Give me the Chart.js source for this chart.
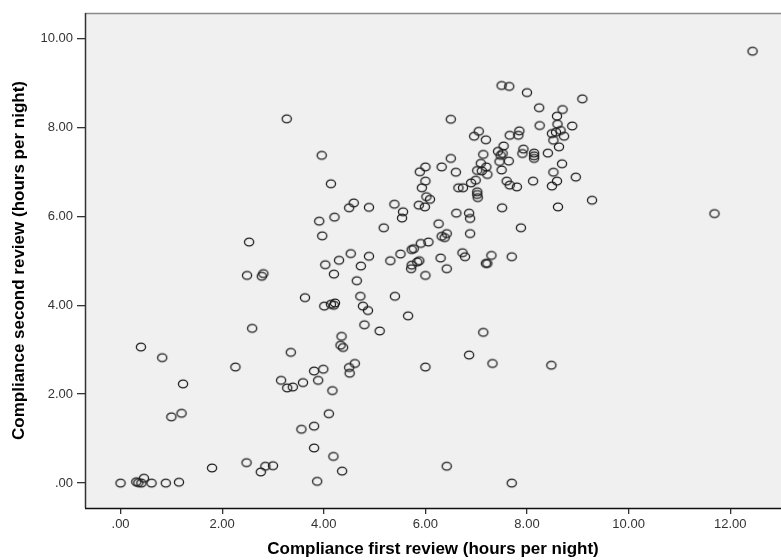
<!DOCTYPE html>
<html>
<head>
<meta charset="utf-8">
<script src="https://cdn.jsdelivr.net/npm/chart.js@4/dist/chart.umd.min.js"></script>
<style>
  html, body { margin: 0; padding: 0; background: #ffffff; overflow: hidden; }
  #wrap { width: 781px; height: 560px; position: relative; }
</style>
</head>
<body>
<div id="wrap"><canvas id="c" width="781" height="560"></canvas></div>
<script>
// ---- Data ----
const firstReview = [
  0.00, 0.31, 0.35, 0.46, 0.41, 0.61, 0.89, 1.15, 1.80, 0.40,
  0.82, 1.23, 1.00, 1.20, 2.26, 2.59, 2.48, 2.76, 2.85, 3.00,
  2.53, 2.49, 2.81, 2.78, 3.27, 3.96, 4.14, 4.59, 4.50, 4.89,
  5.39, 3.91, 4.21, 3.97, 5.18, 4.53, 4.30, 4.03, 4.89, 4.73,
  5.31, 4.20, 4.65, 3.63, 4.01, 4.14, 4.20, 4.22, 4.72, 4.77,
  4.87, 4.80, 5.10, 4.35, 4.33, 4.38, 3.35, 4.61, 4.50, 4.51,
  3.99, 3.81, 3.16, 3.28, 3.39, 3.89, 3.59, 4.17, 4.10, 3.56,
  3.81, 3.81, 4.19, 4.36, 3.87, 5.40, 5.66, 7.14, 6.86, 7.32,
  8.48, 6.00, 6.42, 7.70, 12.44, 7.50, 7.65, 8.00, 9.09, 8.24,
  8.70, 8.59, 6.50, 8.25, 8.60, 8.89, 7.05, 6.96, 7.19, 7.85,
  7.83, 7.66, 8.49, 8.57, 8.66, 8.73, 8.52, 8.63, 7.54, 7.43,
  7.52, 7.48, 7.64, 7.46, 7.93, 7.91, 8.14, 8.14, 8.14, 8.41,
  6.50, 6.00, 5.89, 6.32, 6.60, 7.09, 7.14, 7.20, 7.02, 7.11,
  7.22, 7.50, 8.69, 8.52, 8.59, 8.49, 8.96, 7.60, 7.66, 7.80,
  8.12, 6.00, 5.93, 6.02, 6.09, 5.99, 5.87, 5.56, 5.54, 6.65,
  6.74, 6.90, 6.99, 7.02, 7.02, 7.03, 8.61, 9.28, 11.69, 7.51,
  6.61, 6.86, 6.88, 6.26, 6.32, 6.38, 6.42, 6.88, 7.88, 6.06,
  5.91, 5.77, 5.73, 5.51, 5.88, 5.84, 5.73, 5.72, 6.00, 6.30,
  6.42, 6.73, 6.78, 7.30, 7.22, 7.19, 7.70
];
const secondReview = [
  0.00, 0.03, 0.01, 0.11, 0.00, 0.00, 0.00, 0.02, 0.34, 3.06,
  2.82, 2.23, 1.49, 1.57, 2.61, 3.48, 0.46, 0.25, 0.38, 0.39,
  5.42, 4.67, 4.71, 4.65, 8.19, 7.37, 6.73, 6.30, 6.19, 6.20,
  6.27, 5.89, 5.98, 5.56, 5.74, 5.16, 5.01, 4.91, 5.10, 4.88,
  5.00, 4.70, 4.55, 4.17, 3.98, 4.02, 4.00, 4.05, 4.20, 3.98,
  3.88, 3.56, 3.42, 3.30, 3.10, 3.05, 2.94, 2.69, 2.60, 2.47,
  2.56, 2.52, 2.31, 2.14, 2.16, 2.31, 2.26, 2.08, 1.56, 1.21,
  1.28, 0.79, 0.60, 0.27, 0.04, 4.20, 3.76, 3.39, 2.88, 2.69,
  2.65, 2.61, 0.38, 0.00, 9.71, 8.94, 8.92, 8.78, 8.64, 8.44,
  8.40, 8.25, 8.18, 8.04, 8.07, 8.03, 7.91, 7.80, 7.72, 7.92,
  7.82, 7.82, 7.86, 7.89, 7.93, 7.80, 7.71, 7.56, 7.58, 7.46,
  7.41, 7.37, 7.24, 7.23, 7.51, 7.41, 7.42, 7.36, 7.30, 7.42,
  7.30, 7.11, 7.00, 7.11, 6.99, 7.19, 7.39, 7.11, 7.03, 7.02,
  6.94, 7.04, 7.18, 6.99, 6.79, 6.68, 6.88, 6.79, 6.70, 6.66,
  6.79, 6.79, 6.64, 6.44, 6.38, 6.21, 6.25, 6.10, 5.96, 6.64,
  6.64, 6.75, 6.81, 6.55, 6.49, 6.42, 6.21, 6.36, 6.06, 6.19,
  6.07, 6.07, 5.95, 5.83, 5.55, 5.52, 5.61, 5.61, 5.74, 5.42,
  5.39, 5.27, 5.25, 5.15, 5.00, 4.97, 4.90, 4.82, 4.67, 5.06,
  4.82, 5.18, 5.09, 5.12, 4.94, 4.94, 5.09
];
const xTickValues = [0, 2, 4, 6, 8, 10, 12];
const xTickLabels = ['.00', '2.00', '4.00', '6.00', '8.00', '10.00', '12.00'];
const yTickValues = [0, 2, 4, 6, 8, 10];
const yTickLabels = ['.00', '2.00', '4.00', '6.00', '8.00', '10.00'];
const xTitle = 'Compliance first review (hours per night)';
const yTitle = 'Compliance second review (hours per night)';

// ---- Build points ----
const points = firstReview.map((x, i) => ({ x: x, y: secondReview[i] }));

// Elliptical open marker
function makeMarker() {
  const cv = document.createElement('canvas');
  cv.width = 14; cv.height = 12;
  const g = cv.getContext('2d');
  g.strokeStyle = '#1e1e1e';
  g.lineWidth = 1.3;
  g.beginPath();
  g.ellipse(7, 6, 4.6, 3.8, 0, 0, Math.PI * 2);
  g.stroke();
  return cv;
}
const marker = makeMarker();

const plotBg = {
  id: 'plotBg',
  beforeDatasetsDraw(chart) {
    const { ctx, chartArea: a } = chart;
    ctx.save();
    ctx.fillStyle = '#f0f0f0';
    ctx.fillRect(a.left, a.top, a.right - a.left, a.bottom - a.top);
    ctx.restore();
  },
  afterDraw(chart) {
    const { ctx, chartArea: a } = chart;
    ctx.save();
    ctx.lineWidth = 1.5;
    ctx.strokeStyle = '#8a8a8a';
    ctx.beginPath();
    ctx.moveTo(a.left, a.top + 0.5);
    ctx.lineTo(a.right, a.top + 0.5);
    ctx.stroke();
    ctx.strokeStyle = '#333333';
    ctx.beginPath();
    ctx.moveTo(a.left + 0.5, a.top);
    ctx.lineTo(a.left + 0.5, a.bottom);
    ctx.stroke();
    ctx.strokeStyle = '#111111';
    ctx.beginPath();
    ctx.moveTo(a.left, a.bottom + 0.5);
    ctx.lineTo(a.right, a.bottom + 0.5);
    ctx.stroke();
    ctx.restore();
  }
};

const tickFont = { family: 'Liberation Sans, Arial, sans-serif', size: 13 };
const titleFont = { family: 'Liberation Sans, Arial, sans-serif', size: 17, weight: 'bold' };

new Chart(document.getElementById('c'), {
  type: 'scatter',
  data: {
    datasets: [{
      data: points,
      pointStyle: marker,
      pointRadius: 5,
      pointHoverRadius: 5,
      clip: false
    }]
  },
  options: {
    responsive: false,
    animation: false,
    events: [],
    layout: { autoPadding: false, padding: { top: 13, right: 0, left: 0, bottom: 0 } },
    plugins: { legend: { display: false }, tooltip: { enabled: false } },
    scales: {
      x: {
        type: 'linear',
        min: -0.70,
        max: 13.0,
        afterBuildTicks(scale) { scale.ticks = xTickValues.map(v => ({ value: v })); },
        afterFit(scale) { scale.height = 52; scale.paddingLeft = 0; scale.paddingRight = 0; },
        ticks: {
          autoSkip: false,
          maxRotation: 0,
          padding: 3,
          color: '#333333',
          font: tickFont,
          callback: (v) => xTickLabels[xTickValues.indexOf(v)]
        },
        grid: { display: true, drawOnChartArea: false, drawTicks: true, tickLength: 6, color: '#333333', lineWidth: 1.3 },
        border: { display: false },
        title: { display: true, text: xTitle, color: '#000000', font: titleFont, padding: { top: 0, bottom: 0 } }
      },
      y: {
        type: 'linear',
        min: -0.56,
        max: 10.57,
        afterBuildTicks(scale) { scale.ticks = yTickValues.map(v => ({ value: v })); },
        afterFit(scale) { scale.width = 85; scale.paddingTop = 0; scale.paddingBottom = 0; },
        ticks: {
          autoSkip: false,
          padding: 4,
          color: '#333333',
          font: tickFont,
          callback: (v) => yTickLabels[yTickValues.indexOf(v)]
        },
        grid: { display: true, drawOnChartArea: false, drawTicks: true, tickLength: 8, color: '#333333', lineWidth: 1.3 },
        border: { display: false },
        title: { display: true, text: yTitle, color: '#000000', font: titleFont, padding: { top: 9, bottom: 0 } }
      }
    }
  },
  plugins: [plotBg]
});
</script>
</body>
</html>
